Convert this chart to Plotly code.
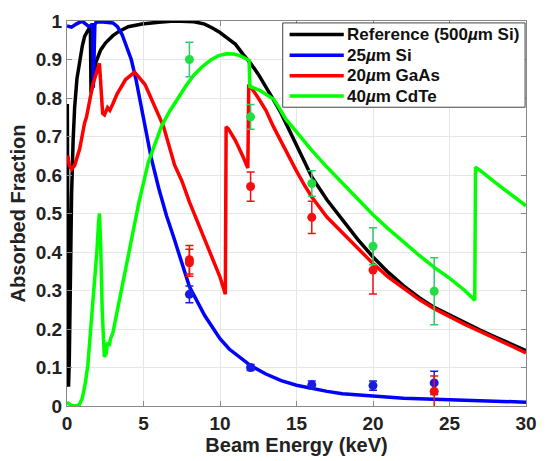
import plotly.graph_objects as go

# ---------------- data ----------------
ref_x = [0.0, 0.02, 0.06, 0.1, 0.15, 0.2, 0.3, 0.4, 0.5, 0.65, 0.83, 1.0, 1.15, 1.36, 1.5, 1.53,
         1.57, 1.65, 1.75, 1.9, 2.2, 2.54, 3.0, 3.4, 4.0, 4.9, 6.0, 7.0, 8.3, 9.0, 9.5, 10.0,
         10.5, 11.0, 11.5, 12.0, 12.5, 13.0, 13.5, 14.0, 14.5, 15.0, 15.5, 16.0, 17.0, 18.0,
         19.0, 20.0, 21.0, 22.0, 23.0, 24.0, 25.0, 26.0, 27.0, 28.0, 29.0, 30.0]
ref_y = [0.78, 0.78, 0.4, 0.05, 0.12, 0.3, 0.55, 0.69, 0.776, 0.85, 0.9, 0.935, 0.96, 0.978, 0.985, 0.975,
         0.814, 0.83, 0.855, 0.894, 0.925, 0.944, 0.962, 0.973, 0.985, 0.992, 0.997, 1.0, 0.998, 0.992, 0.982, 0.97,
         0.955, 0.94, 0.914, 0.89, 0.862, 0.83, 0.795, 0.76, 0.72, 0.68, 0.637, 0.595, 0.535, 0.483,
         0.433, 0.387, 0.347, 0.312, 0.282, 0.256, 0.236, 0.216, 0.197, 0.179, 0.161, 0.144]

si_x = [0.0, 0.3, 0.6, 0.94, 1.1, 1.26, 1.45, 1.6, 1.68, 1.72, 1.76, 1.82, 1.9, 2.2, 3.0, 3.3,
        3.6, 3.9, 4.2, 4.5, 5.0, 5.5, 6.0, 6.5, 7.0, 7.5, 8.0, 9.0, 10.0, 10.6, 11.0, 12.0,
        13.0, 14.0, 15.0, 16.0, 17.0, 18.0, 20.0, 22.0, 25.0, 28.0, 30.0]
si_y = [0.987, 0.984, 0.992, 0.999, 0.996, 0.99, 0.985, 0.99, 0.99, 0.827, 0.9, 0.99, 0.997, 0.998, 0.995, 0.985,
        0.965, 0.935, 0.9, 0.85, 0.745, 0.645, 0.565, 0.495, 0.435, 0.37, 0.31, 0.235, 0.175, 0.148, 0.135, 0.105,
        0.083, 0.066, 0.054, 0.045, 0.038, 0.032, 0.025, 0.02, 0.016, 0.012, 0.01]

gaas_x = [0.0, 0.05, 0.15, 0.3, 0.5, 0.83, 1.15, 1.27, 1.69, 2.12, 2.33, 2.45, 2.65, 2.8, 3.0, 3.27,
          3.83, 4.42, 5.1, 5.96, 6.3, 7.03, 7.5, 8.0, 8.5, 9.0, 9.5, 10.0, 10.35, 10.4, 10.55,
          11.0, 11.5, 11.82, 11.88, 12.0, 12.5, 13.0, 13.5, 14.0, 14.5, 15.0, 15.5, 16.0, 17.0,
          18.0, 19.0, 20.0, 21.0, 22.0, 23.0, 24.0, 25.0, 26.0, 27.0, 28.0, 29.0, 30.0]
gaas_y = [0.63, 0.65, 0.625, 0.615, 0.625, 0.668, 0.735, 0.75, 0.835, 0.89, 0.76, 0.756, 0.775, 0.768, 0.785, 0.81,
          0.848, 0.867, 0.835, 0.76, 0.727, 0.626, 0.585, 0.53, 0.48, 0.43, 0.383, 0.335, 0.29, 0.725, 0.72,
          0.69, 0.648, 0.618, 0.835, 0.83, 0.8, 0.768, 0.725, 0.685, 0.648, 0.61, 0.575, 0.543, 0.49,
          0.45, 0.41, 0.37, 0.335, 0.305, 0.277, 0.253, 0.232, 0.212, 0.194, 0.176, 0.157, 0.138]

cdte_x = [0.0, 0.2, 0.5, 0.8, 1.0, 1.2, 1.36, 1.5, 1.65, 1.8, 1.95, 2.07, 2.12, 2.2, 2.3, 2.44,
          2.55, 2.65, 2.75, 2.85, 3.0, 3.2, 3.5, 3.83, 4.1, 4.47, 4.68, 5.32, 5.75, 6.17, 6.7,
          7.24, 7.8, 8.3, 8.8, 9.37, 9.9, 10.45, 10.9, 11.3, 11.9, 11.95, 12.6, 13.0, 13.5, 13.86,
          14.3, 15.0, 16.0, 17.0, 18.0, 19.0, 20.0, 21.0, 22.0, 23.0, 24.0, 25.0, 26.0, 26.65,
          26.7, 27.0, 28.0, 29.0, 30.0]
cdte_y = [0.01, 0.003, 0.0, 0.003, 0.02, 0.06, 0.106, 0.17, 0.25, 0.317, 0.4, 0.48, 0.5, 0.42, 0.25, 0.128,
          0.135, 0.165, 0.156, 0.175, 0.19, 0.23, 0.29, 0.357, 0.41, 0.475, 0.525, 0.634, 0.68, 0.726, 0.765,
          0.8, 0.833, 0.86, 0.88, 0.898, 0.91, 0.915, 0.914, 0.91, 0.898, 0.83, 0.82, 0.81, 0.797, 0.775,
          0.745, 0.712, 0.664, 0.62, 0.578, 0.536, 0.497, 0.46, 0.425, 0.392, 0.36, 0.332, 0.3, 0.275,
          0.62, 0.612, 0.58, 0.55, 0.52]

# measured points
si_px = [8, 12, 16, 20, 24]
si_py = [0.29, 0.10, 0.055, 0.053, 0.06]
si_pe = [0.022, 0.008, 0.01, 0.012, 0.03]

gaas_px = [8, 8, 12, 16, 20, 24]
gaas_py = [0.38, 0.372, 0.57, 0.49, 0.353, 0.038]
gaas_pe = [0.037, 0.035, 0.038, 0.042, 0.062, 0.04]

cdte_px = [8, 12, 16, 20, 24]
cdte_py = [0.90, 0.751, 0.578, 0.415, 0.298]
cdte_pe = [0.045, 0.032, 0.033, 0.048, 0.087]

x_ticks = [0, 5, 10, 15, 20, 25, 30]
y_ticks = [0, 0.1, 0.2, 0.3, 0.4, 0.5, 0.6, 0.7, 0.8, 0.9, 1]
y_tick_text = ["0", "0.1", "0.2", "0.3", "0.4", "0.5", "0.6", "0.7", "0.8", "0.9", "1"]

legend_names = ["Reference (500<i>µ</i>m Si)", "25<i>µ</i>m Si", "20<i>µ</i>m GaAs", "40<i>µ</i>m CdTe"]
legend_colors = ["#000000", "#0000ff", "#ff0000", "#00ff00"]

# ---------------- figure ----------------
FONT = "Liberation Sans, Arial, sans-serif"
LW = 3.5
fig = go.Figure()

curves = [(ref_x, ref_y, "#000000"), (si_x, si_y, "#0000ff"),
          (gaas_x, gaas_y, "#ff0000"), (cdte_x, cdte_y, "#00ff00")]
for xs, ys, c in curves:
    fig.add_trace(go.Scatter(x=xs, y=ys, mode="lines", line=dict(color=c, width=LW),
                             showlegend=False, hoverinfo="skip"))

pts = [(si_px, si_py, si_pe, "#1a1ae6", "#1a1ae6"),
       (gaas_px, gaas_py, gaas_pe, "#f01010", "#f01010"),
       (cdte_px, cdte_py, cdte_pe, "#22dd44", "#2ccc66")]
for xs, ys, es, mc, ec in pts:
    fig.add_trace(go.Scatter(x=xs, y=ys, mode="markers",
                             marker=dict(color=mc, size=9, line=dict(width=0)),
                             error_y=dict(type="data", array=es, visible=True, color=ec,
                                          thickness=1.5, width=4),
                             showlegend=False, hoverinfo="skip"))

# manual legend (MATLAB style)
lx0, lx1, ly0, ly1 = 0.470, 0.998, 0.776, 0.995
fig.add_shape(type="rect", xref="paper", yref="paper", x0=lx0, x1=lx1, y0=ly0, y1=ly1,
              line=dict(color="#444444", width=1), fillcolor="white", layer="above")
row_y = [0.965, 0.911, 0.858, 0.805]
for name, col, yy in zip(legend_names, legend_colors, row_y):
    fig.add_shape(type="line", xref="paper", yref="paper", x0=0.485, x1=0.603, y0=yy, y1=yy,
                  line=dict(color=col, width=LW), layer="above")
    fig.add_annotation(xref="paper", yref="paper", x=0.606, y=yy, text="<b>" + name + "</b>",
                       showarrow=False, xanchor="left", yanchor="middle",
                       font=dict(family=FONT, size=17, color="#111111"))

axis_common = dict(showline=True, linecolor="#888888", linewidth=1, mirror="ticks",
                   ticks="inside", ticklen=5, tickcolor="#888888",
                   showgrid=True, gridcolor="#e6e6e6", gridwidth=1, zeroline=False,
                   tickfont=dict(family=FONT, size=19, color="#222222", weight="bold"))

fig.update_layout(
    width=548, height=461,
    margin=dict(l=67, r=13, t=11, b=52),
    paper_bgcolor="white", plot_bgcolor="white",
    showlegend=False,
    xaxis=dict(range=[0, 30], tickvals=x_ticks, **axis_common,
               title=dict(text="Beam Energy (keV)", standoff=2,
                          font=dict(family=FONT, size=20, color="#222222", weight="bold"))),
    yaxis=dict(range=[0, 1], tickvals=y_ticks, ticktext=y_tick_text, **axis_common,
               title=dict(text="Absorbed Fraction", standoff=4,
                          font=dict(family=FONT, size=20, color="#222222", weight="bold"))),
)

fig.write_html("out.html")
